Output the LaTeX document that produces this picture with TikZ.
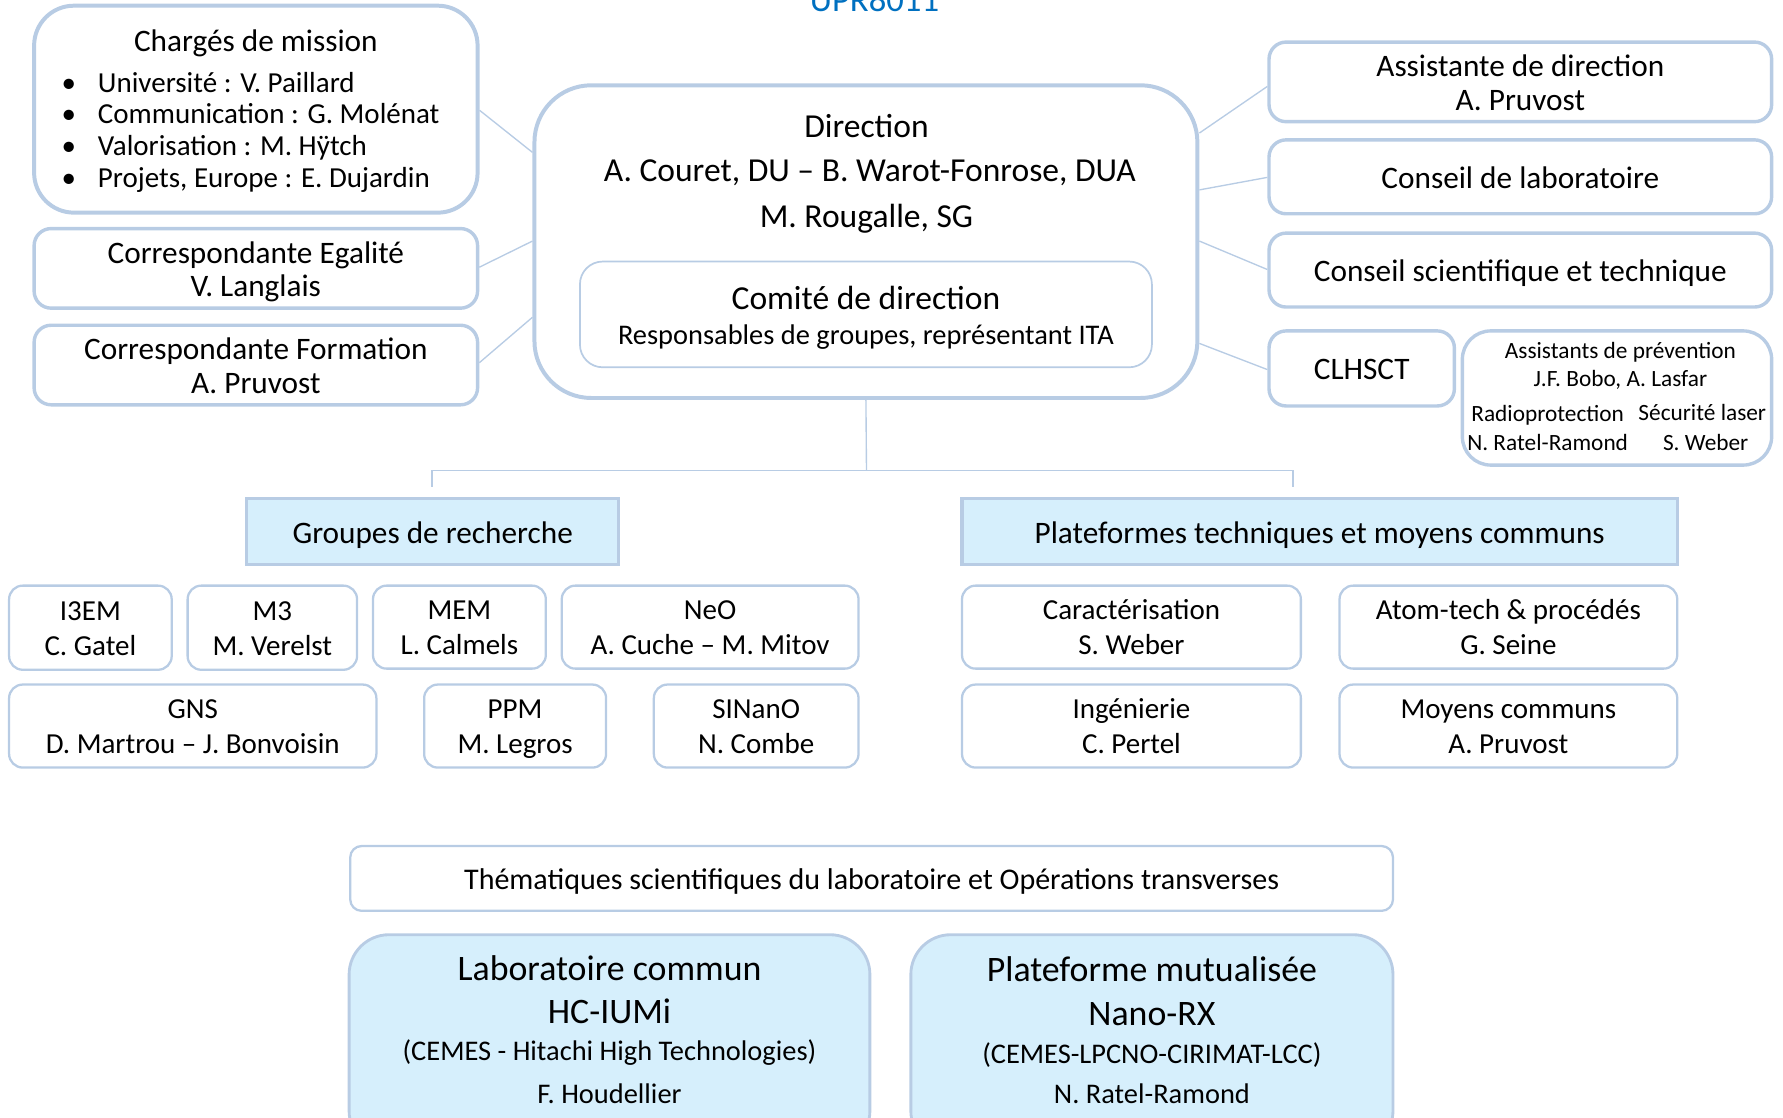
\documentclass[tikz,border=0pt]{standalone}
\usepackage{fontspec}
\setmainfont{Carlito}
\definecolor{bord}{RGB}{184,204,228}
\definecolor{lblue}{RGB}{214,239,252}
\definecolor{tblue}{RGB}{0,112,192}
\newcommand\fsz[2]{\fontsize{#1}{#2}\selectfont}
\newcommand\bt[1]{\begin{tabular}{@{}c@{}}\rule{0pt}{\dimexpr 0.3\baselineskip+1.06em\relax}#1\end{tabular}}
\begin{document}
\begin{tikzpicture}[x=1pt,y=-1pt,
  box/.style={draw=bord, line width=3pt, rounded corners=15pt, fill=white, inner sep=0pt, font=\fsz{27.5}{29.5}},
  sbox/.style={draw=bord, line width=2pt, rounded corners=12pt, fill=white, inner sep=0pt, font=\fsz{25.5}{31}},
  hbox/.style={draw=bord, line width=3pt, fill=lblue, inner sep=0pt, font=\fsz{27.5}{30}},
  bbox/.style={draw=bord, line width=2.5pt, rounded corners=35pt, fill=lblue, inner sep=0pt},
  con/.style={draw=bord, line width=1.2pt},
  txt/.style={inner sep=0pt, align=center}]
\useasboundingbox (0,0) rectangle (1568,983);
\clip (0,0) rectangle (1568,983);

% title (cut at the top)
\node[txt, anchor=base, text=tblue, font=\fsz{30.5}{36}] (ttl) at (769,10) {UPR8011};

% Direction
\node[box, line width=3.5pt, rounded corners=50pt, minimum width=583pt, minimum height=275pt] (dir) at (761.5,212.5) {};
\node[txt, anchor=base, font=\fsz{29.5}{35}] (dirt) at (762,121) {Direction};
\node[txt, anchor=base, font=\fsz{29.5}{35}] (dirn) at (765,160) {A. Couret, DU – B. Warot-Fonrose, DUA};
\node[txt, anchor=base, font=\fsz{29.5}{35}] (dirs) at (762,200) {M. Rougalle, SG};
\node[box, line width=1.5pt, rounded corners=20pt, minimum width=503pt, minimum height=93pt] (com) at (761.5,276.5) {};
\node[txt, anchor=base, font=\fsz{29.5}{35}] (comt) at (761.5,272) {Comité de direction};
\node[txt, anchor=base, font=\fsz{25}{30}] (comr) at (761.5,303) {Responsables de groupes, représentant ITA};

% left column
\node[box, line width=3.5pt, rounded corners=35pt, minimum width=390pt, minimum height=182pt] (chg) at (225,96) {};
\node[txt, anchor=base, font=\fsz{27.5}{30}] (chgt) at (225,45) {Chargés de mission};
\node[txt, anchor=base west, font=\fsz{25.5}{28}] (b1) at (54,81) {\makebox[32pt][l]{•}Université : V. Paillard};
\node[txt, anchor=base west, font=\fsz{25.5}{28}] (b2) at (54,109) {\makebox[32pt][l]{•}Communication : G. Molénat};
\node[txt, anchor=base west, font=\fsz{25.5}{28}] (b3) at (54,137) {\makebox[32pt][l]{•}Valorisation : M. Hÿtch};
\node[txt, anchor=base west, font=\fsz{25.5}{28}] (b4) at (54,165) {\makebox[32pt][l]{•}Projets, Europe : E. Dujardin};

\node[box, minimum width=390pt, minimum height=70pt] (ega) at (225,236) {\bt{Correspondante Egalité\\V. Langlais}};
\node[box, minimum width=390pt, minimum height=70pt] (frm) at (225,321) {\bt{Correspondante Formation\\A. Pruvost}};

% right column
\node[box, minimum width=442pt, minimum height=70pt] (ast) at (1337,72) {\bt{Assistante de direction\\A. Pruvost}};
\node[box, minimum width=442pt, minimum height=65pt] (cl) at (1337,155.5) {\bt{Conseil de laboratoire}};
\node[box, minimum width=442pt, minimum height=65pt] (cst) at (1337,237.5) {\bt{Conseil scientifique et technique}};
\node[box, minimum width=163pt, minimum height=66pt] (chs) at (1197.5,324) {\bt{CLHSCT}};
\node[box, rounded corners=25pt, minimum width=272pt, minimum height=118pt] (apv) at (1422,350) {};
\node[txt, anchor=base, font=\fsz{20.5}{24}] (apv1) at (1425,315) {Assistants de prévention};
\node[txt, anchor=base, font=\fsz{20.5}{24}] (apv2) at (1425,340) {J.F. Bobo, A. Lasfar};
\node[txt, anchor=base, font=\fsz{20.5}{24}] (apv3) at (1361,371) {Radioprotection};
\node[txt, anchor=base, font=\fsz{20.5}{24}] (apv4) at (1361,396) {N. Ratel-Ramond};
\node[txt, anchor=base, font=\fsz{20.5}{24}] (apv5) at (1497,370) {Sécurité laser};
\node[txt, anchor=base, font=\fsz{20.5}{24}] (apv6) at (1500,396) {S. Weber};

% connectors
\draw[con] (chg.east |- 0,97) -- (dir.west |- 0,134);
\draw[con] (ega.east |- 0,235) -- (dir.west |- 0,212);
\draw[con] (frm.east |- 0,319) -- (dir.west |- 0,279);
\draw[con] (dir.east |- 0,117) -- (ast.west |- 0,76);
\draw[con] (dir.east |- 0,167) -- (cl.west |- 0,156);
\draw[con] (dir.east |- 0,212) -- (cst.west |- 0,237);
\draw[con] (dir.east |- 0,302) -- (chs.west |- 0,325);

% tree
\coordinate (tj) at (762,414);
\coordinate (tl) at (380,414);
\coordinate (tr) at (1137,414);
\coordinate (tle) at (380,428);
\coordinate (tre) at (1137,428);
\draw[con] (dir.south) -- (tj);
\draw[con] (tle) -- (tl) -- (tr) -- (tre);

% headers
\node[hbox, minimum width=327pt, minimum height=58pt] (grp) at (380.5,467.5) {\bt{Groupes de recherche}};
\node[hbox, minimum width=629pt, minimum height=58pt] (plt) at (1160.5,467.5) {\bt{Plateformes techniques et moyens communs}};

% research groups
\node[sbox, minimum width=143pt, minimum height=74pt] (i3em) at (79.5,552) {\bt{I3EM\\C. Gatel}};
\node[sbox, minimum width=149pt, minimum height=74pt] (m3) at (239.5,552) {\bt{M3\\M. Verelst}};
\node[sbox, minimum width=152pt, minimum height=73pt] (mem) at (404,551.5) {\bt{MEM\\L. Calmels}};
\node[sbox, minimum width=261pt, minimum height=73pt] (neo) at (624.5,551.5) {\bt{NeO\\A. Cuche – M. Mitov}};
\node[sbox, minimum width=323pt, minimum height=73pt] (gns) at (169.5,638.5) {\bt{GNS\\D. Martrou – J. Bonvoisin}};
\node[sbox, minimum width=160pt, minimum height=73pt] (ppm) at (453,638.5) {\bt{PPM\\M. Legros}};
\node[sbox, minimum width=180pt, minimum height=73pt] (sin) at (665,638.5) {\bt{SINanO\\N. Combe}};

% platforms
\node[sbox, minimum width=298pt, minimum height=73pt] (car) at (995,551.5) {\bt{Caractérisation\\S. Weber}};
\node[sbox, minimum width=297pt, minimum height=73pt] (atm) at (1326.5,551.5) {\bt{Atom-tech \& procédés\\G. Seine}};
\node[sbox, minimum width=298pt, minimum height=73pt] (ing) at (995,638.5) {\bt{Ingénierie\\C. Pertel}};
\node[sbox, minimum width=297pt, minimum height=73pt] (moy) at (1326.5,638.5) {\bt{Moyens communs\\A. Pruvost}};

% bottom
\node[sbox, rounded corners=10pt, minimum width=917pt, minimum height=57pt, font=\fsz{26.4}{30}] (the) at (766.5,772.5) {\bt{Thématiques scientifiques du laboratoire et Opérations transverses}};

\node[bbox, minimum width=458pt, minimum height=190pt] (lab) at (536,917) {};
\node[txt, anchor=base, font=\fsz{31.5}{36}] (lab1) at (536,862) {Laboratoire commun};
\node[txt, anchor=base, font=\fsz{31.5}{36}] (lab2) at (536,900) {HC-IUMi};
\node[txt, anchor=base, font=\fsz{25}{30}] (lab3) at (536,933) {(CEMES - Hitachi High Technologies)};
\node[txt, anchor=base, font=\fsz{25}{30}] (lab4) at (536,970) {F. Houdellier};

\node[bbox, minimum width=424pt, minimum height=190pt] (pm) at (1013,917) {};
\node[txt, anchor=base, font=\fsz{31.5}{36}] (pm1) at (1013,863) {Plateforme mutualisée};
\node[txt, anchor=base, font=\fsz{31.5}{36}] (pm2) at (1013,902) {Nano-RX};
\node[txt, anchor=base, font=\fsz{25}{30}] (pm3) at (1013,935) {(CEMES-LPCNO-CIRIMAT-LCC)};
\node[txt, anchor=base, font=\fsz{25}{30}] (pm4) at (1013,970) {N. Ratel-Ramond};
\end{tikzpicture}
\end{document}
